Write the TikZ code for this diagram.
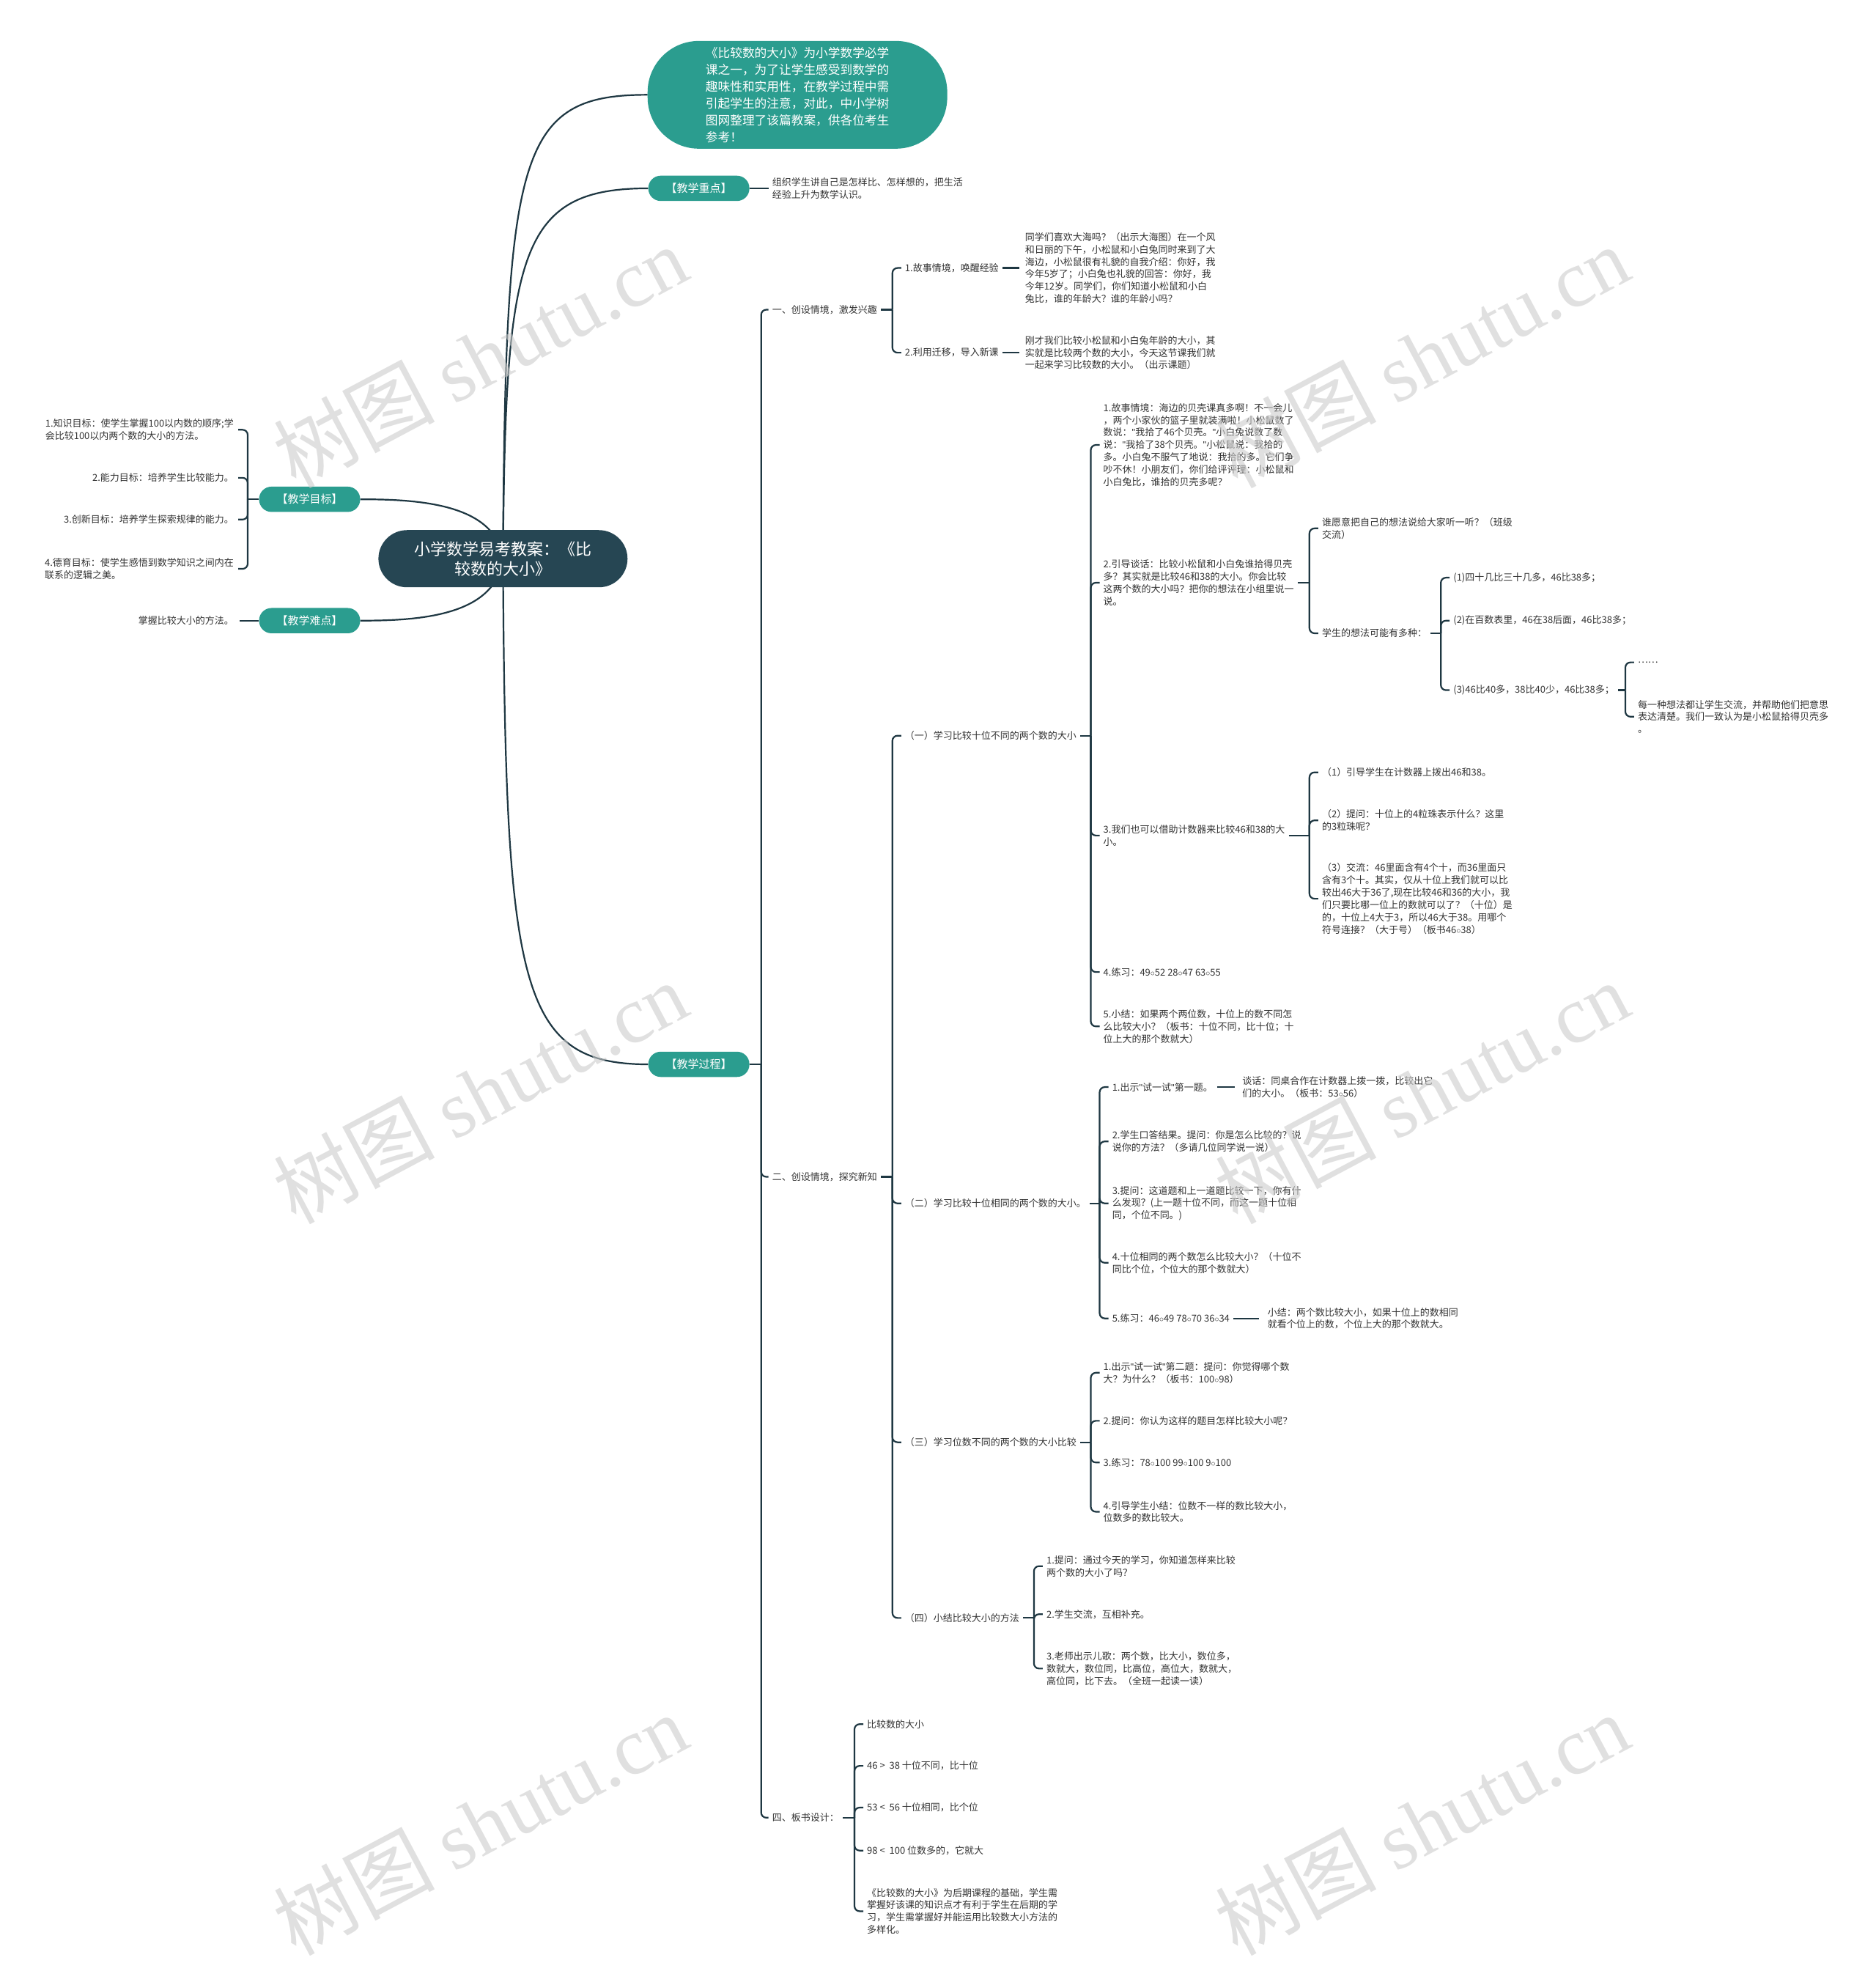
\documentclass[tikz,border=0pt]{standalone}
\usepackage{fontspec}
\setmainfont{Noto Sans CJK SC}
\newfontfamily\wmfont{Liberation Serif}
\newfontfamily\qfont{Liberation Sans}
\usetikzlibrary{backgrounds}
\definecolor{tealclr}{RGB}{43,157,143}
\definecolor{rootclr}{RGB}{38,70,83}
\definecolor{lineclr}{RGB}{30,55,66}
\definecolor{txtclr}{RGB}{51,51,51}
\newcommand{\tfont}{\fontsize{13}{16.9}\selectfont}
\newcommand{\cmpo}{\ensuremath{\circ}}
\newcommand{\qq}{{\qfont"}}

\begin{document}
\begin{tikzpicture}[
  x=1.725pt, y=-1.725pt,
  txt/.style={anchor=west, align=left, inner sep=0pt, font=\tfont, text=txtclr},
  ltxt/.style={txt, anchor=east},
  pill/.style={fill=tealclr, text=white, rounded corners=17pt, minimum width=138pt, minimum height=34.5pt, inner sep=0pt, font=\fontsize{15}{18}\selectfont},
  introbox/.style={fill=tealclr, text=white, rounded corners=70pt, minimum width=409pt, minimum height=147pt, align=left, inner sep=0pt, font=\fontsize{16.7}{23}\selectfont},
  rootbox/.style={fill=rootclr, text=white, rounded corners=39pt, minimum width=340pt, minimum height=78pt, align=center, inner sep=0pt, font=\fontsize{22}{27}\selectfont},
  link/.style={draw=lineclr, line width=2.2pt, rounded corners=7pt},
  wm/.style={rotate=28, text=gray!40, opacity=0.6, inner sep=0pt, font=\fontsize{110}{110}\selectfont}
]
\useasboundingbox (0,0) rectangle (1484,1568);

% centre and first level
\node[rootbox] (root) at (398,442) {小学数学易考教案：《比\\较数的大小》};
\node[introbox] (intro) at (631,75) {《比较数的大小》为小学数学必学\\课之一，为了让学生感受到数学的\\趣味性和实用性，在教学过程中需\\引起学生的注意，对此，中小学树\\图网整理了该篇教案，供各位考生\\参考！};
\node[pill] (keyPt) at (553,149) {【教学重点】};
\node[pill] (goal) at (245,395) {【教学目标】};
\node[pill] (hard) at (245,491) {【教学难点】};
\node[pill] (proc) at (553,842) {【教学过程】};

\node[txt] (keyTxt) at (611,149) {组织学生讲自己是怎样比、怎样想的，把生活\\经验上升为数学认识。};

% left side
\node[ltxt] (goal1) at (185,340) {1.知识目标：使学生掌握100以内数的顺序;学\\会比较100以内两个数的大小的方法。};
\node[ltxt] (goal2) at (185,378) {2.能力目标：培养学生比较能力。};
\node[ltxt] (goal3) at (185,411) {3.创新目标：培养学生探索规律的能力。};
\node[ltxt] (goal4) at (185,450) {4.德育目标：使学生感悟到数学知识之间内在\\联系的逻辑之美。};
\node[ltxt] (hardTxt) at (185,491) {掌握比较大小的方法。};

% 一
\node[txt] (s1) at (611,245) {一、创设情境，激发兴趣};
\node[txt] (s1a) at (716,212) {1.故事情境，唤醒经验};
\node[txt] (s1at) at (811,212) {同学们喜欢大海吗？（出示大海图）在一个风\\和日丽的下午，小松鼠和小白兔同时来到了大\\海边，小松鼠很有礼貌的自我介绍：你好，我\\今年5岁了；小白兔也礼貌的回答：你好，我\\今年12岁。同学们，你们知道小松鼠和小白\\兔比，谁的年龄大？谁的年龄小吗？};
\node[txt] (s1b) at (716,279) {2.利用迁移，导入新课};
\node[txt] (s1bt) at (811,279) {刚才我们比较小松鼠和小白兔年龄的大小，其\\实就是比较两个数的大小，今天这节课我们就\\一起来学习比较数的大小。（出示课题）};

% 二
\node[txt] (s2) at (611,931) {二、创设情境，探究新知};
\node[txt] (p1) at (716,582) {（一）学习比较十位不同的两个数的大小};
\node[txt] (p1a) at (873,352) {1.故事情境：海边的贝壳课真多啊！不一会儿\\，两个小家伙的篮子里就装满啦！小松鼠数了\\数说：\qq 我拾了46个贝壳。\qq 小白兔说数了数\\说：\qq 我拾了38个贝壳。\qq 小松鼠说：我拾的\\多。小白兔不服气了地说：我拾的多。它们争\\吵不休！小朋友们，你们给评评理：小松鼠和\\小白兔比，谁拾的贝壳多呢？};
\node[txt] (p1b) at (873,461) {2.引导谈话：比较小松鼠和小白兔谁拾得贝壳\\多？其实就是比较46和38的大小。你会比较\\这两个数的大小吗？把你的想法在小组里说一\\说。};
\node[txt] (p1b1) at (1046,418) {谁愿意把自己的想法说给大家听一听？（班级\\交流）};
\node[txt] (p1b2) at (1046,501) {学生的想法可能有多种：};
\node[txt] (q1) at (1150,457) {(1)四十几比三十几多，46比38多；};
\node[txt] (q2) at (1150,491) {(2)在百数表里，46在38后面，46比38多；};
\node[txt] (q3) at (1150,546) {(3)46比40多，38比40少，46比38多；};
\node[txt] (q3a) at (1296,524) {……};
\node[txt] (q3b) at (1296,567) {每一种想法都让学生交流，并帮助他们把意思\\表达清楚。我们一致认为是小松鼠拾得贝壳多\\。};
\node[txt] (p1c) at (873,661) {3.我们也可以借助计数器来比较46和38的大\\小。};
\node[txt] (c1) at (1046,611) {（1）引导学生在计数器上拨出46和38。};
\node[txt] (c2) at (1046,649) {（2）提问：十位上的4粒珠表示什么？这里\\的3粒珠呢？};
\node[txt] (c3) at (1046,711) {（3）交流：46里面含有4个十，而36里面只\\含有3个十。其实，仅从十位上我们就可以比\\较出46大于36了,现在比较46和36的大小，我\\们只要比哪一位上的数就可以了？（十位）是\\的，十位上4大于3，所以46大于38。用哪个\\符号连接？（大于号）（板书46\cmpo38）};
\node[txt] (p1d) at (873,769) {4.练习：49\cmpo52 28\cmpo47 63\cmpo55};
\node[txt] (p1e) at (873,812) {5.小结：如果两个两位数，十位上的数不同怎\\么比较大小？（板书：十位不同，比十位；十\\位上大的那个数就大）};

\node[txt] (p2) at (716,952) {（二）学习比较十位相同的两个数的大小。};
\node[txt] (p2a) at (880,860) {1.出示\qq 试一试\qq 第一题。};
\node[txt] (p2at) at (983,860) {谈话：同桌合作在计数器上拨一拨，比较出它\\们的大小。（板书：53\cmpo56）};
\node[txt] (p2b) at (880,903) {2.学生口答结果。提问：你是怎么比较的？说\\说你的方法？（多请几位同学说一说）};
\node[txt] (p2c) at (880,952) {3.提问：这道题和上一道题比较一下，你有什\\么发现？(上一题十位不同，而这一题十位相\\同，个位不同。)};
\node[txt] (p2d) at (880,999) {4.十位相同的两个数怎么比较大小？（十位不\\同比个位，个位大的那个数就大）};
\node[txt] (p2e) at (880,1043) {5.练习：46\cmpo49 78\cmpo70 36\cmpo34};
\node[txt] (p2et) at (1003,1043) {小结：两个数比较大小，如果十位上的数相同\\就看个位上的数，个位上大的那个数就大。};

\node[txt] (p3) at (716,1141) {（三）学习位数不同的两个数的大小比较};
\node[txt] (p3a) at (873,1086) {1.出示\qq 试一试\qq 第二题：提问：你觉得哪个数\\大？为什么？（板书：100\cmpo98）};
\node[txt] (p3b) at (873,1124) {2.提问：你认为这样的题目怎样比较大小呢？};
\node[txt] (p3c) at (873,1157) {3.练习：78\cmpo100 99\cmpo100 9\cmpo100};
\node[txt] (p3d) at (873,1196) {4.引导学生小结：位数不一样的数比较大小，\\位数多的数比较大。};

\node[txt] (p4) at (716,1280) {（四）小结比较大小的方法};
\node[txt] (p4a) at (828,1239) {1.提问：通过今天的学习，你知道怎样来比较\\两个数的大小了吗？};
\node[txt] (p4b) at (828,1277) {2.学生交流，互相补充。};
\node[txt] (p4c) at (828,1320) {3.老师出示儿歌：两个数，比大小，数位多，\\数就大，数位同，比高位，高位大，数就大，\\高位同，比下去。（全班一起读一读）};

% 四
\node[txt] (s4) at (611,1438) {四、板书设计：};
\node[txt] (b1) at (686,1364) {比较数的大小};
\node[txt] (b2) at (686,1397) {46 >\ \ 38 十位不同，比十位};
\node[txt] (b3) at (686,1430) {53 <\ \ 56 十位相同，比个位};
\node[txt] (b4) at (686,1464) {98 <\ \ 100 位数多的，它就大};
\node[txt] (b5) at (686,1512) {《比较数的大小》为后期课程的基础，学生需\\掌握好该课的知识点才有利于学生在后期的学\\习，学生需掌握好并能运用比较数大小方法的\\多样化。};

\begin{scope}[on background layer]
\fill[white] (0,0) rectangle (1484,1568);
% curves out of the centre
\draw[link] (root.center) .. controls (400,120) and (410,75) .. (intro.west);
\draw[link] (root.center) .. controls (400,200) and (410,149) .. (keyPt.west);
\draw[link] (root.center) .. controls (400,780) and (410,842) .. (proc.west);
\draw[link] (root.center) .. controls (392,398) and (330,395) .. (goal.east);
\draw[link] (root.center) .. controls (392,488) and (330,491) .. (hard.east);

\draw[link] (keyPt.east) -- ([xshift=-5pt]keyTxt.west);
\draw[link] (hard.west) -- ([xshift=8pt]hardTxt.east);

\coordinate (kGoal) at ([xshift=19pt]goal1.east);
\draw[link] (goal.west) -- (kGoal |- goal.west);
\foreach \kid in {goal1,goal2,goal3,goal4}
  \draw[link] (kGoal |- goal.west) |- ([xshift=6pt]\kid.east);

\coordinate (kProc) at ([xshift=-15pt]s1.west);
\draw[link] (proc.east) -- (kProc |- proc.east);
\foreach \kid in {s1,s2,s4}
  \draw[link] (kProc |- proc.east) |- ([xshift=-5pt]\kid.west);

% 一
\coordinate (kS1) at ([xshift=-17pt]s1a.west);
\draw[link] ([xshift=5pt]s1.east) -- (kS1 |- s1.east);
\foreach \kid in {s1a,s1b}
  \draw[link] (kS1 |- s1.east) |- ([xshift=-5pt]\kid.west);
\draw[link] ([xshift=5pt]s1a.east) -- ([xshift=-8pt]s1at.west);
\draw[link] ([xshift=5pt]s1b.east) -- ([xshift=-8pt]s1bt.west);

% 二
\coordinate (kS2) at ([xshift=-17pt]p1.west);
\draw[link] ([xshift=5pt]s2.east) -- (kS2 |- s2.east);
\foreach \kid in {p1,p2,p3,p4}
  \draw[link] (kS2 |- s2.east) |- ([xshift=-5pt]\kid.west);

\coordinate (kP1) at ([xshift=-17pt]p1a.west);
\draw[link] ([xshift=5pt]p1.east) -- (kP1 |- p1.east);
\foreach \kid in {p1a,p1b,p1c,p1d,p1e}
  \draw[link] (kP1 |- p1.east) |- ([xshift=-5pt]\kid.west);

\coordinate (kP1b) at ([xshift=-17pt]p1b1.west);
\draw[link] ([xshift=5pt]p1b.east) -- (kP1b |- p1b.east);
\foreach \kid in {p1b1,p1b2}
  \draw[link] (kP1b |- p1b.east) |- ([xshift=-5pt]\kid.west);

\coordinate (kQ) at ([xshift=-17pt]q1.west);
\draw[link] ([xshift=5pt]p1b2.east) -- (kQ |- p1b2.east);
\foreach \kid in {q1,q2,q3}
  \draw[link] (kQ |- p1b2.east) |- ([xshift=-5pt]\kid.west);

\coordinate (kQ3) at ([xshift=-17pt]q3a.west);
\draw[link] ([xshift=5pt]q3.east) -- (kQ3 |- q3.east);
\foreach \kid in {q3a,q3b}
  \draw[link] (kQ3 |- q3.east) |- ([xshift=-5pt]\kid.west);

\coordinate (kP1c) at ([xshift=-17pt]c1.west);
\draw[link] ([xshift=5pt]p1c.east) -- (kP1c |- p1c.east);
\foreach \kid in {c1,c2,c3}
  \draw[link] (kP1c |- p1c.east) |- ([xshift=-5pt]\kid.west);

\coordinate (kP2) at ([xshift=-17pt]p2a.west);
\draw[link] ([xshift=5pt]p2.east) -- (kP2 |- p2.east);
\foreach \kid in {p2a,p2b,p2c,p2d,p2e}
  \draw[link] (kP2 |- p2.east) |- ([xshift=-5pt]\kid.west);
\draw[link] ([xshift=6pt]p2a.east) -- ([xshift=-10pt]p2at.west);
\draw[link] ([xshift=5pt]p2e.east) -- ([xshift=-12pt]p2et.west);

\coordinate (kP3) at ([xshift=-17pt]p3a.west);
\draw[link] ([xshift=5pt]p3.east) -- (kP3 |- p3.east);
\foreach \kid in {p3a,p3b,p3c,p3d}
  \draw[link] (kP3 |- p3.east) |- ([xshift=-5pt]\kid.west);

\coordinate (kP4) at ([xshift=-17pt]p4a.west);
\draw[link] ([xshift=5pt]p4.east) -- (kP4 |- p4.east);
\foreach \kid in {p4a,p4b,p4c}
  \draw[link] (kP4 |- p4.east) |- ([xshift=-5pt]\kid.west);

% 四
\coordinate (kS4) at ([xshift=-17pt]b1.west);
\draw[link] ([xshift=5pt]s4.east) -- (kS4 |- s4.east);
\foreach \kid in {b1,b2,b3,b4,b5}
  \draw[link] (kS4 |- s4.east) |- ([xshift=-5pt]\kid.west);
\end{scope}

% watermark
\foreach \wx/\wy [count=\i] in {380/282, 1125/282, 380/864, 1125/864, 380/1443, 1125/1443}
  \node[wm] (wm\i) at (\wx,\wy) {树图 {\wmfont shutu.cn}};
\end{tikzpicture}
\end{document}
